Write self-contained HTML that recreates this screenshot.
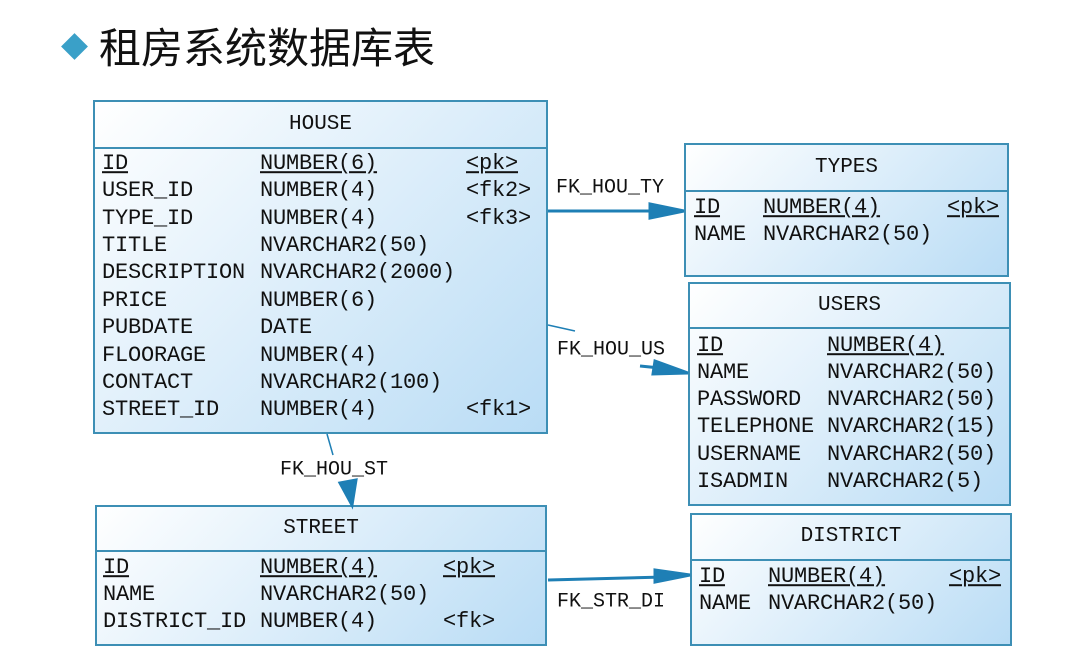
<!DOCTYPE html>
<html><head><meta charset="utf-8"><style>
body{margin:0;width:1071px;height:658px;background:#fff;position:relative;overflow:hidden;font-family:"Liberation Mono","DejaVu Sans Mono",monospace}
.t{position:absolute;border:2px solid #3d8fb5;background:linear-gradient(135deg,#ffffff 0%,#e3f1fb 40%,#b9dcf5 100%);box-sizing:border-box}
.h{position:absolute;left:0;right:0;top:0;border-bottom:2px solid #3d8fb5;text-align:center;font-size:21px;color:#111}
.x{position:absolute;font-size:22px;color:#111;white-space:pre;line-height:24px;letter-spacing:-0.2px;transform:translateY(-45%)}
.u{text-decoration:underline}
.l{position:absolute;font-size:20px;color:#111;white-space:pre;transform:translateY(-50%)}
</style></head><body>
<div style="position:absolute;left:65px;top:37px;width:19px;height:19px;background:#3aa0c8;transform:rotate(45deg)"></div>
<div style="position:absolute;left:99px;top:20px;font-size:42px;line-height:52px;font-family:'Noto Sans CJK SC',sans-serif;color:#111">租房系统数据库表</div>

<div class="t" style="left:93px;top:100px;width:455px;height:334px"><div class="h" style="height:45px;line-height:45px">HOUSE</div></div>
<div class="t" style="left:684px;top:143px;width:325px;height:134px"><div class="h" style="height:45px;line-height:45px">TYPES</div></div>
<div class="t" style="left:688px;top:282px;width:323px;height:224px"><div class="h" style="height:43px;line-height:43px">USERS</div></div>
<div class="t" style="left:95px;top:505px;width:452px;height:141px"><div class="h" style="height:43px;line-height:43px">STREET</div></div>
<div class="t" style="left:690px;top:513px;width:322px;height:133px"><div class="h" style="height:44px;line-height:44px">DISTRICT</div></div>

<svg width="1071" height="658" style="position:absolute;left:0;top:0">
<g stroke="#1e7fb5" stroke-width="3" fill="#1e7fb5">
<line x1="548" y1="211" x2="660" y2="211"/><polygon points="650,204 684,211 650,218"/>
<line x1="548" y1="325" x2="575" y2="331" stroke-width="1.5"/><line x1="640" y1="366" x2="660" y2="368"/><polygon points="655,361 688,373 653,374"/>
<line x1="327" y1="434" x2="333" y2="455" stroke-width="1.5"/><polygon points="340,483 356,480 352,505"/>
<line x1="548" y1="580" x2="665" y2="577"/><polygon points="655,570 690,575 655,582"/>
</g></svg>
<div class="l" style="left:556px;top:188px">FK_HOU_TY</div>
<div class="l" style="left:557px;top:350px">FK_HOU_US</div>
<div class="l" style="left:280px;top:470px">FK_HOU_ST</div>
<div class="l" style="left:557px;top:602px">FK_STR_DI</div>

<!-- HOUSE -->
<div class="x u" style="left:102px;top:163px">ID</div><div class="x u" style="left:260px;top:163px">NUMBER(6)</div><div class="x u" style="left:466px;top:163px">&lt;pk&gt;</div>
<div class="x" style="left:102px;top:190px">USER_ID</div><div class="x" style="left:260px;top:190px">NUMBER(4)</div><div class="x" style="left:466px;top:190px">&lt;fk2&gt;</div>
<div class="x" style="left:102px;top:218px">TYPE_ID</div><div class="x" style="left:260px;top:218px">NUMBER(4)</div><div class="x" style="left:466px;top:218px">&lt;fk3&gt;</div>
<div class="x" style="left:102px;top:245px">TITLE</div><div class="x" style="left:260px;top:245px">NVARCHAR2(50)</div>
<div class="x" style="left:102px;top:272px">DESCRIPTION</div><div class="x" style="left:260px;top:272px">NVARCHAR2(2000)</div>
<div class="x" style="left:102px;top:300px">PRICE</div><div class="x" style="left:260px;top:300px">NUMBER(6)</div>
<div class="x" style="left:102px;top:327px">PUBDATE</div><div class="x" style="left:260px;top:327px">DATE</div>
<div class="x" style="left:102px;top:355px">FLOORAGE</div><div class="x" style="left:260px;top:355px">NUMBER(4)</div>
<div class="x" style="left:102px;top:382px">CONTACT</div><div class="x" style="left:260px;top:382px">NVARCHAR2(100)</div>
<div class="x" style="left:102px;top:409px">STREET_ID</div><div class="x" style="left:260px;top:409px">NUMBER(4)</div><div class="x" style="left:466px;top:409px">&lt;fk1&gt;</div>
<!-- TYPES -->
<div class="x u" style="left:694px;top:207px">ID</div><div class="x u" style="left:763px;top:207px">NUMBER(4)</div><div class="x u" style="left:947px;top:207px">&lt;pk&gt;</div>
<div class="x" style="left:694px;top:234px">NAME</div><div class="x" style="left:763px;top:234px">NVARCHAR2(50)</div>
<!-- USERS -->
<div class="x u" style="left:697px;top:345px">ID</div><div class="x u" style="left:827px;top:345px">NUMBER(4)</div>
<div class="x" style="left:697px;top:372px">NAME</div><div class="x" style="left:827px;top:372px">NVARCHAR2(50)</div>
<div class="x" style="left:697px;top:399px">PASSWORD</div><div class="x" style="left:827px;top:399px">NVARCHAR2(50)</div>
<div class="x" style="left:697px;top:426px">TELEPHONE</div><div class="x" style="left:827px;top:426px">NVARCHAR2(15)</div>
<div class="x" style="left:697px;top:454px">USERNAME</div><div class="x" style="left:827px;top:454px">NVARCHAR2(50)</div>
<div class="x" style="left:697px;top:481px">ISADMIN</div><div class="x" style="left:827px;top:481px">NVARCHAR2(5)</div>
<!-- STREET -->
<div class="x u" style="left:103px;top:567px">ID</div><div class="x u" style="left:260px;top:567px">NUMBER(4)</div><div class="x u" style="left:443px;top:567px">&lt;pk&gt;</div>
<div class="x" style="left:103px;top:594px">NAME</div><div class="x" style="left:260px;top:594px">NVARCHAR2(50)</div>
<div class="x" style="left:103px;top:621px">DISTRICT_ID</div><div class="x" style="left:260px;top:621px">NUMBER(4)</div><div class="x" style="left:443px;top:621px">&lt;fk&gt;</div>
<!-- DISTRICT -->
<div class="x u" style="left:699px;top:576px">ID</div><div class="x u" style="left:768px;top:576px">NUMBER(4)</div><div class="x u" style="left:949px;top:576px">&lt;pk&gt;</div>
<div class="x" style="left:699px;top:603px">NAME</div><div class="x" style="left:768px;top:603px">NVARCHAR2(50)</div>
</body></html>
